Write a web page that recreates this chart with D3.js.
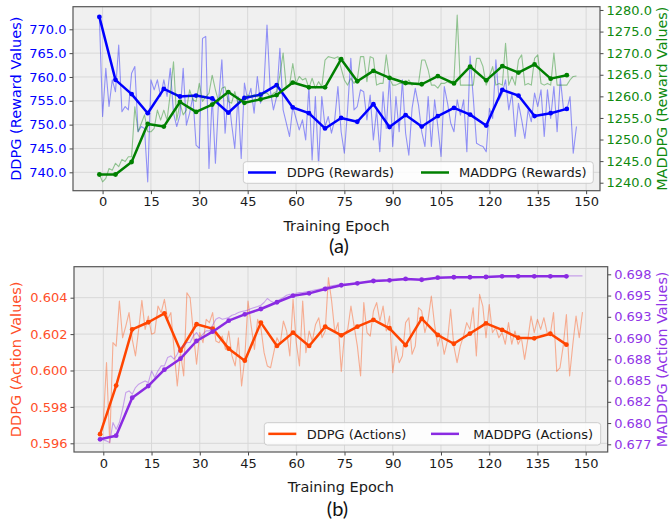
<!DOCTYPE html>
<html><head><meta charset="utf-8">
<script src="https://cdn.jsdelivr.net/npm/d3@7"></script>
<style>body{margin:0;background:#fff}svg{display:block}</style>
</head><body>
<svg id="c" width="670" height="531"></svg>
<script>
// ---------- DATA ----------
const xTicks = [0, 15, 30, 45, 60, 75, 90, 105, 120, 135, 150];
const rawEpochsTop = d3.range(-1, 148);      // -1 .. 147
const rawEpochsBottom = d3.range(-1, 150);   // -1 .. 149
const avgEpochs = d3.range(-1, 145, 5);      // -1, 4, ..., 144

const ddpgRewardRaw = [772.7,751.7,761.8,753.8,759.4,756.9,766.7,752.7,753.8,753.1,
760.8,762.2,748.5,749.6,749.2,738.0,759.4,757.3,759.4,755.9,
759.4,755.9,761.8,752.4,749.6,752.0,761.8,749.9,752.4,755.9,
745.7,745.0,768.1,768.5,740.8,755.9,741.9,755.2,763.6,748.2,
756.6,750.3,745.0,755.9,742.9,758.7,755.2,757.6,752.4,760.1,
754.5,757.3,770.9,757.3,753.1,755.9,766.0,753.1,750.3,747.5,
753.8,751.3,748.9,751.0,746.8,758.0,742.6,755.9,741.5,755.9,
749.6,751.7,748.2,751.0,758.0,748.5,744.0,753.1,763.9,753.1,
753.8,757.3,756.9,751.0,756.2,746.8,753.1,744.3,756.9,749.2,
760.1,745.4,755.9,748.5,759.4,748.2,743.6,753.4,757.6,754.1,
748.5,745.4,755.9,745.4,755.2,749.6,743.3,758.0,754.5,750.3,
748.5,755.2,752.0,755.2,744.3,764.4,755.5,746.1,745.7,745.4,
744.3,753.4,751.3,763.6,755.2,756.6,759.4,753.1,756.6,747.5,
754.5,751.0,747.1,753.1,750.6,756.6,753.8,757.3,747.5,757.3,
751.3,758.0,748.5,759.7,753.1,753.1,755.9,744.0,749.6];

const maddpgRewardRaw = [1241.9,1240.2,1241.0,1243.3,1242.9,1244.5,1243.7,1245.4,1244.9,1246.0,
1246.0,1257.6,1251.8,1253.7,1255.7,1251.8,1251.8,1252.6,1256.8,1254.5,
1256.8,1254.5,1260.7,1268.0,1254.5,1258.4,1255.7,1256.8,1261.5,1259.2,
1258.8,1263.0,1258.8,1259.9,1260.7,1264.9,1261.5,1258.8,1261.9,1262.2,
1258.8,1258.4,1261.1,1258.4,1258.8,1259.2,1260.3,1259.9,1260.3,1259.9,
1260.3,1260.7,1260.8,1259.9,1260.7,1261.1,1264.9,1270.0,1261.9,1262.6,
1267.6,1263.0,1264.6,1263.8,1264.2,1261.9,1264.2,1261.9,1263.4,1262.2,
1268.4,1269.2,1269.0,1268.8,1269.2,1266.5,1263.8,1262.6,1264.2,1263.0,
1263.8,1269.2,1269.2,1263.4,1269.2,1268.8,1262.6,1263.0,1263.0,1269.6,
1264.2,1262.6,1262.6,1263.0,1263.0,1262.6,1263.8,1262.6,1263.0,1263.0,
1268.4,1268.4,1266.1,1262.6,1262.6,1261.9,1263.0,1263.0,1263.4,1263.0,
1263.8,1278.8,1262.6,1262.6,1262.6,1262.6,1262.6,1268.8,1268.8,1266.9,
1262.6,1264.6,1266.9,1262.6,1263.0,1262.6,1272.3,1262.6,1264.6,1262.6,
1268.4,1269.6,1262.6,1263.0,1262.6,1268.8,1269.6,1263.0,1262.6,1263.0,
1262.6,1270.0,1262.6,1262.6,1262.6,1262.6,1263.8,1264.6,1264.7];

const ddpgRewardAvg = [772.6,759.4,756.4,752.4,757.5,755.9,756.1,755.5,752.5,755.6,
756.3,758.3,753.6,752.4,749.2,751.4,750.6,754.3,749.5,752.0,
749.6,751.8,753.5,752.1,749.8,757.3,756.1,751.8,752.4,753.3];

const maddpgRewardAvg = [1241.9,1241.9,1244.8,1253.6,1253.0,1258.7,1256.4,1258.1,1261.0,1258.5,
1259.3,1260.3,1263.2,1262.1,1262.1,1268.6,1263.5,1265.9,1264.3,1263.1,
1262.8,1264.7,1263.0,1266.9,1263.7,1267.0,1265.5,1267.4,1264.1,1264.9];

const ddpgActionRaw = [0.59649,0.59713,0.60043,0.59603,0.60153,0.60134,0.60382,0.60180,0.60244,0.60318,
0.60171,0.60080,0.60226,0.60385,0.60226,0.60299,0.60199,0.60208,0.60354,0.60318,
0.60391,0.60281,0.60318,0.60116,0.59915,0.60098,0.59970,0.60427,0.60400,0.60208,
0.60034,0.60208,0.60153,0.60281,0.60263,0.60318,0.60162,0.60153,0.60189,0.60116,
0.60217,0.60080,0.60025,0.60180,0.59915,0.60070,0.60382,0.60244,0.60116,0.60281,
0.60235,0.60098,0.60025,0.60015,0.60098,0.60180,0.60144,0.60272,0.60217,0.60080,
0.60391,0.60153,0.60025,0.60382,0.60098,0.60217,0.60162,0.60253,0.60290,0.60180,
0.60217,0.60510,0.60382,0.60208,0.60263,0.59995,0.60199,0.60226,0.60354,0.60244,
0.60134,0.59970,0.60373,0.60208,0.60189,0.60327,0.60373,0.60272,0.60354,0.60217,
0.60299,0.59988,0.60134,0.60043,0.60080,0.60263,0.60290,0.60089,0.60134,0.60345,
0.60327,0.60208,0.60281,0.60409,0.60253,0.60134,0.60199,0.60089,0.60162,0.60336,
0.60134,0.60043,0.60134,0.60189,0.60263,0.60226,0.60345,0.60080,0.60418,0.60354,
0.60180,0.60363,0.60208,0.60235,0.60180,0.60208,0.60144,0.60263,0.60144,0.60217,
0.60144,0.60180,0.60061,0.60171,0.60299,0.60208,0.60281,0.60226,0.60290,0.60208,
0.60199,0.60318,0.59995,0.60015,0.60134,0.60308,0.59970,0.60144,0.60299,0.60180,
0.60321];

const maddpgActionRaw = [0.67809,0.67801,0.67790,0.67770,0.68006,0.67927,0.68006,0.68163,0.68359,0.68378,
0.68339,0.68418,0.68457,0.68476,0.68496,0.68476,0.68614,0.68535,0.68614,0.68673,
0.68673,0.68771,0.68790,0.68751,0.68810,0.68888,0.68908,0.68947,0.68947,0.69025,
0.69065,0.69006,0.69045,0.69084,0.69084,0.69151,0.69222,0.69241,0.69222,0.69229,
0.69241,0.69269,0.69280,0.69300,0.69312,0.69320,0.69331,0.69347,0.69359,0.69371,
0.69386,0.69418,0.69465,0.69437,0.69418,0.69437,0.69457,0.69477,0.69504,0.69516,
0.69496,0.69528,0.69536,0.69536,0.69543,0.69551,0.69559,0.69567,0.69575,0.69583,
0.69598,0.69606,0.69614,0.69622,0.69626,0.69625,0.69631,0.69634,0.69641,0.69642,
0.69646,0.69651,0.69654,0.69661,0.69664,0.69671,0.69673,0.69674,0.69677,0.69678,
0.69681,0.69683,0.69687,0.69691,0.69692,0.69696,0.69693,0.69690,0.69688,0.69687,
0.69686,0.69691,0.69696,0.69701,0.69705,0.69710,0.69711,0.69713,0.69712,0.69714,
0.69716,0.69715,0.69717,0.69716,0.69718,0.69716,0.69719,0.69720,0.69721,0.69719,
0.69720,0.69722,0.69723,0.69722,0.69724,0.69726,0.69725,0.69727,0.69726,0.69727,
0.69728,0.69727,0.69728,0.69729,0.69728,0.69729,0.69730,0.69729,0.69730,0.69730,
0.69731,0.69730,0.69731,0.69731,0.69730,0.69731,0.69732,0.69731,0.69732,0.69732,
0.69732];

const ddpgActionAvg = [0.59650,0.59917,0.60226,0.60265,0.60314,0.60109,0.60254,0.60230,0.60120,0.60054,
0.60263,0.60135,0.60208,0.60135,0.60241,0.60193,0.60241,0.60278,0.60232,0.60139,
0.60285,0.60195,0.60147,0.60203,0.60259,0.60223,0.60180,0.60177,0.60202,0.60142];

const maddpgActionAvg = [0.67809,0.67851,0.68298,0.68436,0.68628,0.68757,0.68965,0.69075,0.69204,0.69279,
0.69342,0.69421,0.69498,0.69526,0.69577,0.69621,0.69644,0.69671,0.69679,0.69695,
0.69686,0.69710,0.69715,0.69715,0.69718,0.69726,0.69726,0.69726,0.69726,0.69726];

const rewardLeftTicks = [740, 745, 750, 755, 760, 765, 770];
const rewardRightTicks = [1240, 1245, 1250, 1255, 1260, 1265, 1270, 1275, 1280];
const actionLeftTicks = [0.596, 0.598, 0.600, 0.602, 0.604];
const actionRightTicks = [0.6775, 0.68, 0.6825, 0.685, 0.6875, 0.69, 0.6925, 0.695, 0.6975];
const actionRightLabels = ["0.677","0.680","0.682","0.685","0.688","0.690","0.693","0.695","0.698"];

// ---------- DRAW ----------
const svg = d3.select('#c');
const FONT = 'DejaVu Sans, sans-serif';

function drawPanel(o) {
  const x = d3.scaleLinear().domain(o.xDomain).range([o.left, o.right]);
  const yL = d3.scaleLinear().domain(o.yLDomain).range([o.bottom, o.top]);
  const yR = d3.scaleLinear().domain(o.yRDomain).range([o.bottom, o.top]);
  const g = svg.append('g');

  g.append('rect').attr('x', o.left).attr('y', o.top)
    .attr('width', o.right - o.left).attr('height', o.bottom - o.top)
    .attr('fill', '#f0f0f0');

  // grid
  g.append('g').selectAll('line').data(xTicks).join('line')
    .attr('x1', d => x(d)).attr('x2', d => x(d))
    .attr('y1', o.top).attr('y2', o.bottom)
    .attr('stroke', '#d8d8d8').attr('stroke-width', 1);
  g.append('g').selectAll('line').data(o.yLTicks).join('line')
    .attr('y1', d => yL(d)).attr('y2', d => yL(d))
    .attr('x1', o.left).attr('x2', o.right)
    .attr('stroke', '#d8d8d8').attr('stroke-width', 1);

  const lineL = d3.line().x(d => x(d[0])).y(d => yL(d[1]));
  const lineR = d3.line().x(d => x(d[0])).y(d => yR(d[1]));

  function series(line, xs, ys, color, thick, scaleY) {
    const pts = d3.zip(xs, ys);
    if (!thick) {
      g.append('path').attr('d', line(pts)).attr('fill', 'none')
        .attr('stroke', color).attr('stroke-opacity', 0.4).attr('stroke-width', 1.1)
        .attr('stroke-linejoin', 'round');
    } else {
      g.append('path').attr('d', line(pts)).attr('fill', 'none')
        .attr('stroke', color).attr('stroke-width', 2.5).attr('stroke-linejoin', 'round');
      g.append('g').selectAll('circle').data(pts).join('circle')
        .attr('cx', d => x(d[0])).attr('cy', d => scaleY(d[1])).attr('r', 2.4)
        .attr('fill', color);
    }
  }
  series(lineL, o.rawX, o.leftRaw, o.cL, false, yL);
  series(lineL, avgEpochs, o.leftAvg, o.cL, true, yL);
  series(lineR, o.rawX, o.rightRaw, o.cR, false, yR);
  series(lineR, avgEpochs, o.rightAvg, o.cR, true, yR);

  function styleAxis(s, color) {
    s.select('.domain').remove();
    s.selectAll('.tick line').attr('stroke', '#333').attr('stroke-width', 0.9);
    s.selectAll('.tick text').attr('fill', color).attr('font-size', 13).attr('font-family', FONT);
  }
  g.append('g').attr('transform', `translate(0,${o.bottom})`)
    .call(d3.axisBottom(x).tickValues(xTicks).tickSize(3.5).tickPadding(3).tickFormat(d3.format('d')))
    .call(s => styleAxis(s, '#1a1a1a'));
  g.append('g').attr('transform', `translate(${o.left},0)`)
    .call(d3.axisLeft(yL).tickValues(o.yLTicks).tickSize(3.5).tickPadding(3).tickFormat(o.yLFormat))
    .call(s => styleAxis(s, o.cLText));
  g.append('g').attr('transform', `translate(${o.right},0)`)
    .call(d3.axisRight(yR).tickValues(o.yRTicks).tickSize(3.5).tickPadding(3).tickFormat(o.yRFormat))
    .call(s => styleAxis(s, o.cRText));

  // frame
  g.append('rect').attr('x', o.left).attr('y', o.top)
    .attr('width', o.right - o.left).attr('height', o.bottom - o.top)
    .attr('fill', 'none').attr('stroke', '#555').attr('stroke-width', 1.2);

  // axis labels
  const cy = (o.top + o.bottom) / 2;
  g.append('text').attr('transform', `translate(20.5,${cy}) rotate(-90)`)
    .attr('text-anchor', 'middle').attr('font-family', FONT).attr('font-size', 14.5)
    .attr('fill', o.cLText).text(o.leftLabel);
  g.append('text').attr('transform', `translate(666.5,${cy}) rotate(-90)`)
    .attr('text-anchor', 'middle').attr('font-family', FONT).attr('font-size', 14.3)
    .attr('fill', o.cRText).text(o.rightLabel);
  g.append('text').attr('x', (o.left + o.right) / 2).attr('y', o.xLabelY)
    .attr('text-anchor', 'middle').attr('font-family', FONT).attr('font-size', 14.5)
    .attr('fill', '#1a1a1a').text('Training Epoch');
  g.append('text').attr('x', o.capX).attr('y', o.capY)
    .attr('text-anchor', 'middle').attr('font-family', 'Lato, Open Sans, sans-serif').attr('font-size', 20)
    .attr('fill', '#111').text(o.caption);

  // legend
  const L = o.legend;
  const lg = g.append('g');
  lg.append('rect').attr('x', L.x).attr('y', L.y).attr('width', L.w).attr('height', L.h)
    .attr('rx', 3).attr('fill', '#fff').attr('fill-opacity', 0.85)
    .attr('stroke', '#cccccc').attr('stroke-width', 1);
  L.items.forEach(it => {
    const ly = L.y + L.h / 2;
    lg.append('line').attr('x1', it.x).attr('x2', it.x + 28).attr('y1', ly).attr('y2', ly)
      .attr('stroke', it.color).attr('stroke-width', 2.5);
    lg.append('text').attr('x', it.tx).attr('y', ly + 4.7).attr('font-family', FONT)
      .attr('font-size', 13).attr('fill', '#1a1a1a').text(it.label);
  });
}

drawPanel({
  left: 73, right: 600, top: 6.7, bottom: 190.7,
  xDomain: [-9.18, 154.3], yLDomain: [736.14, 774.74], yRDomain: [1238.15, 1280.76],
  yLTicks: rewardLeftTicks, yRTicks: rewardRightTicks,
  yLFormat: d3.format('.1f'), yRFormat: d3.format('.1f'),
  rawX: rawEpochsTop,
  leftRaw: ddpgRewardRaw, leftAvg: ddpgRewardAvg, rightRaw: maddpgRewardRaw, rightAvg: maddpgRewardAvg,
  cL: 'blue', cR: 'green', cLText: 'blue', cRText: '#108a10',
  leftLabel: 'DDPG (Reward Values)', rightLabel: 'MADDPG (Reward Values)',
  xLabelY: 230.5, caption: '(a)', capX: 339, capY: 252.5,
  legend: { x: 243.3, y: 161.7, w: 350, h: 21.6, items: [
    { x: 248, tx: 286.7, color: 'blue', label: 'DDPG (Rewards)' },
    { x: 421, tx: 459, color: 'green', label: 'MADDPG (Rewards)' } ] }
});

drawPanel({
  left: 74, right: 607.7, top: 266.7, bottom: 452,
  xDomain: [-9.11, 156.84], yLDomain: [0.595522, 0.605703], yRDomain: [0.676594, 0.698394],
  yLTicks: actionLeftTicks, yRTicks: actionRightTicks,
  yLFormat: d3.format('.3f'), yRFormat: (d, i) => actionRightLabels[i],
  rawX: rawEpochsBottom,
  leftRaw: ddpgActionRaw, leftAvg: ddpgActionAvg, rightRaw: maddpgActionRaw, rightAvg: maddpgActionAvg,
  cL: 'orangered', cR: 'blueviolet', cLText: '#ff4f2a', cRText: '#9035e6',
  leftLabel: 'DDPG (Action Values)', rightLabel: 'MADDPG (Action Values)',
  xLabelY: 492.3, caption: '(b)', capX: 337.5, capY: 515.5,
  legend: { x: 264.3, y: 422.7, w: 336.4, h: 22.3, items: [
    { x: 268.3, tx: 306.7, color: 'orangered', label: 'DDPG (Actions)' },
    { x: 431, tx: 473.3, color: 'blueviolet', label: 'MADDPG (Actions)' } ] }
});
</script>
</body></html>
